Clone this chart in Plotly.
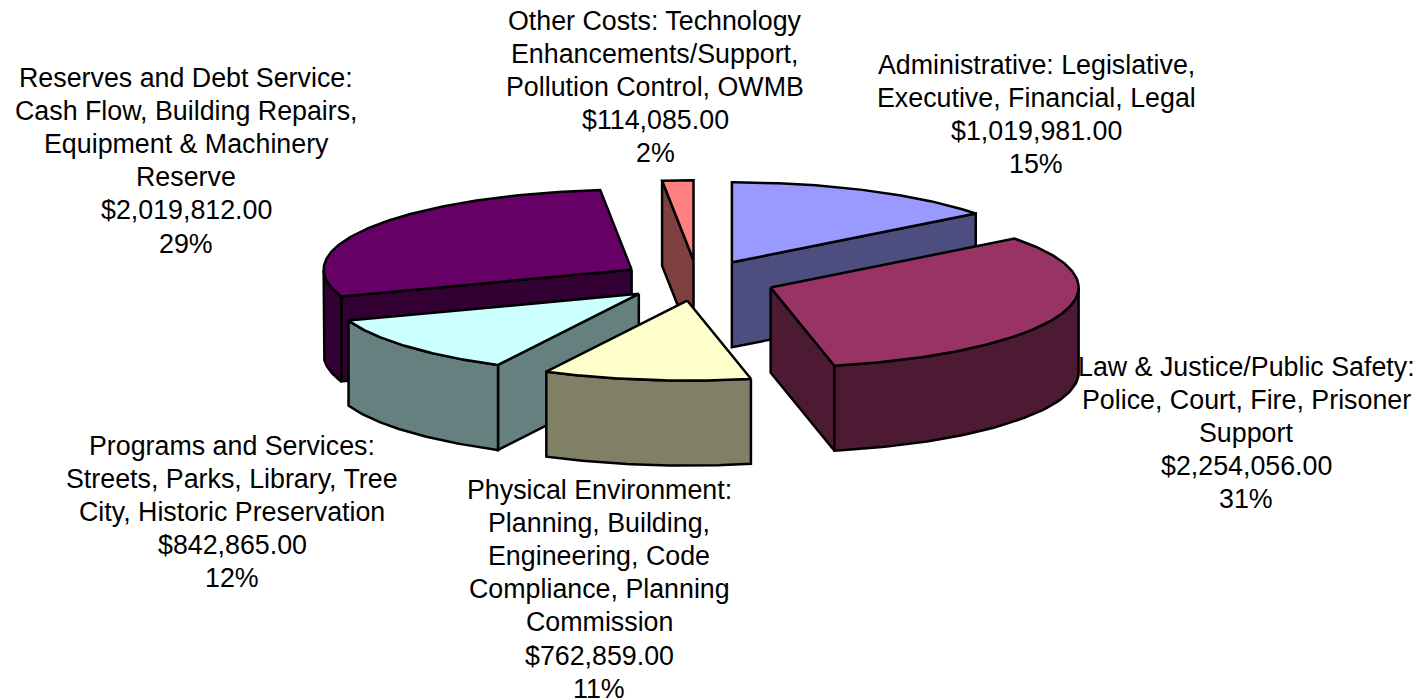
import numpy as np
import plotly.graph_objects as go

categories = ["Administrative", "Law & Justice", "Physical Environment",
              "Programs and Services", "Reserves and Debt Service", "Other Costs"]
values = [1019981, 2254056, 762859, 842865, 2019812, 114085]
top_colors = ["#9999FF", "#993366", "#FFFFCC", "#CCFFFF", "#660066", "#FF8080"]
side_colors = ["#4D4D80", "#4D1A33", "#808066", "#668080", "#330033", "#804040"]
labels = [
    ["Administrative: Legislative,", "Executive, Financial, Legal", "$1,019,981.00", "15%"],
    ["Law & Justice/Public Safety:", "Police, Court, Fire, Prisoner", "Support", "$2,254,056.00", "31%"],
    ["Physical Environment:", "Planning, Building,", "Engineering, Code", "Compliance, Planning",
     "Commission", "$762,859.00", "11%"],
    ["Programs and Services:", "Streets, Parks, Library, Tree", "City, Historic Preservation",
     "$842,865.00", "12%"],
    ["Reserves and Debt Service:", "Cash Flow, Building Repairs,", "Equipment & Machinery",
     "Reserve", "$2,019,812.00", "29%"],
    ["Other Costs: Technology", "Enhancements/Support,", "Pollution Control, OWMB",
     "$114,085.00", "2%"],
]
label_x = [1036, 1246, 599, 232, 186, 655]
label_y = [65, 367, 490, 446, 78, 21]
draw_order = [5, 0, 4, 1, 3, 2]

# pie geometry in page pixels
cx, cy = 697.5, 280.5
rx, ry = 308, 80
depth = 85
explode = 0.253
line_step = 33.1

fractions = np.array(values) / sum(values)
ends = np.cumsum(fractions) * 360
starts = ends - fractions * 360


def pt(apex, angle):
    a = np.radians(angle)
    return apex[0] + rx * np.sin(a), apex[1] - ry * np.cos(a)


def poly(fig, xs, ys, color):
    fig.add_trace(go.Scatter(x=xs, y=ys, mode="lines", fill="toself", fillcolor=color,
                             line=dict(color="black", width=2.5), hoverinfo="skip",
                             showlegend=False))


fig = go.Figure()
for i in draw_order:
    s, e = starts[i], ends[i]
    m = np.radians((s + e) / 2)
    apex = (cx + explode * rx * np.sin(m), cy - explode * ry * np.cos(m))
    # straight walls that face the viewer
    for ang, show in ((s, np.sin(np.radians(s)) < -1e-6), (e, np.sin(np.radians(e)) > 1e-6)):
        if show:
            x1, y1 = pt(apex, ang)
            poly(fig, [apex[0], x1, x1, apex[0], apex[0]],
                 [apex[1], y1, y1 + depth, apex[1] + depth, apex[1]], side_colors[i])
    # curved wall, front half of the rim only
    lo, hi = max(s, 90), min(e, 270)
    if hi > lo:
        arc = np.linspace(lo, hi, 60)
        px, py = zip(*[pt(apex, a) for a in arc])
        poly(fig, list(px) + list(px[::-1]) + [px[0]],
             list(py) + [v + depth for v in py[::-1]] + [py[0]], side_colors[i])
    # top face
    arc = np.linspace(s, e, 120)
    px, py = zip(*[pt(apex, a) for a in arc])
    poly(fig, [apex[0]] + list(px) + [apex[0]], [apex[1]] + list(py) + [apex[1]], top_colors[i])

for lines, x, y in zip(labels, label_x, label_y):
    for n, line in enumerate(lines):
        fig.add_annotation(x=x, y=y + n * line_step, text=line, showarrow=False,
                           xanchor="center", yanchor="middle",
                           font=dict(family="Liberation Sans", size=26.8, color="black"))

fig.update_layout(
    width=1421, height=700, margin=dict(l=0, r=0, t=0, b=0),
    paper_bgcolor="white", plot_bgcolor="white", showlegend=False,
    xaxis=dict(range=[0, 1421], visible=False, fixedrange=True),
    yaxis=dict(range=[700, 0], visible=False, fixedrange=True),
)
# drop the page's default body margin so the axes line up with the window
fig.write_html("out.html", config={"displayModeBar": False},
               post_script="document.body.style.margin='0';")
